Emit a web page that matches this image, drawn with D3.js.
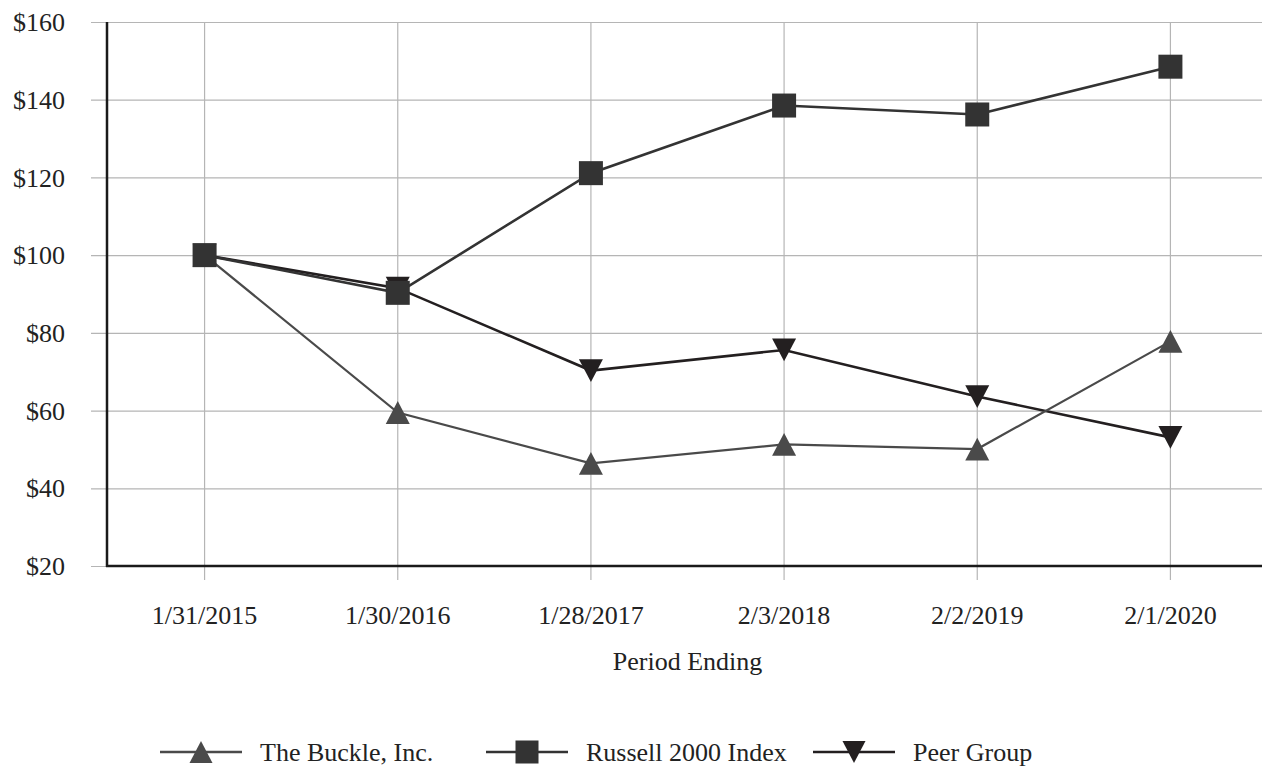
<!DOCTYPE html>
<html lang="en">
<head>
<meta charset="UTF-8">
<title>Cumulative total return</title>
<script src="https://cdn.jsdelivr.net/npm/d3@7"></script>
<style>
	body { margin: 0; background: #fff; }
	text { font-family: "Liberation Serif", "Times New Roman", serif; fill: #222; }
</style>
</head>
<body>
<div id="chart"></div>
<script>
var periods = ["1/31/2015", "1/30/2016", "1/28/2017", "2/3/2018", "2/2/2019", "2/1/2020"];
var buckle  = [100, 59.5, 46.4, 51.3, 50.1, 77.8];
var russell = [100, 90.3, 121.1, 138.5, 136.2, 148.5];
var peer    = [100, 91.5, 70.3, 75.6, 63.6, 53.1];
var yTicks  = [20, 40, 60, 80, 100, 120, 140, 160];

var series = [
	{name: "The Buckle, Inc.",   values: buckle,  color: "#4a4a4a", symbol: "up"},
	{name: "Russell 2000 Index", values: russell, color: "#333333", symbol: "square"},
	{name: "Peer Group",         values: peer,    color: "#231f20", symbol: "down"}
];

var width = 1262, height = 766;
var fontSize = 26;
var svg = d3.select("#chart").append("svg")
	.attr("width", width)
	.attr("height", height);

var x = d3.scaleBand().domain(periods).range([108, 1267]);
var y = d3.scaleLinear().domain([20, 160]).range([566, 22]);

// gridlines
svg.append("g")
	.attr("transform", "translate(91,0)")
	.call(d3.axisLeft(y).tickValues(yTicks).tickSize(-(width - 91)).tickFormat(""))
	.call(function(g){
		g.select(".domain").remove();
		g.selectAll("line").attr("stroke", "#b5b5b5").attr("stroke-width", 1.2);
	});
svg.append("g")
	.attr("transform", "translate(0,580)")
	.call(d3.axisBottom(x).tickSize(-(580 - 22)).tickFormat(""))
	.call(function(g){
		g.select(".domain").remove();
		g.selectAll("line").attr("stroke", "#b5b5b5").attr("stroke-width", 1.2);
	});

// axis lines
svg.append("line").attr("x1", 107).attr("x2", 107).attr("y1", 22).attr("y2", 567)
	.attr("stroke", "#1a1a1a").attr("stroke-width", 2.5);
svg.append("line").attr("x1", 106).attr("x2", width).attr("y1", 566).attr("y2", 566)
	.attr("stroke", "#1a1a1a").attr("stroke-width", 2.5);

// tick labels
svg.append("g").selectAll("text").data(yTicks).join("text")
	.attr("x", 65)
	.attr("y", function(d){ return y(d); })
	.attr("dy", "0.35em")
	.attr("text-anchor", "end")
	.attr("font-size", fontSize)
	.text(function(d){ return "$" + d; });

svg.append("g").selectAll("text").data(periods).join("text")
	.attr("x", function(d){ return x(d) + x.bandwidth() / 2; })
	.attr("y", 624)
	.attr("text-anchor", "middle")
	.attr("font-size", fontSize)
	.text(function(d){ return d; });

svg.append("text")
	.attr("x", x(periods[2]) + x.bandwidth())
	.attr("y", 670)
	.attr("text-anchor", "middle")
	.attr("font-size", fontSize)
	.text("Period Ending");

function marker(sel, s, size) {
	if (s.symbol === "square") {
		sel.append("rect")
			.attr("x", -size / 2).attr("y", -size / 2)
			.attr("width", size).attr("height", size)
			.attr("fill", s.color);
	} else {
		var h = size * 0.95, w = size / 2;
		var pts = s.symbol === "up"
			? [[0, -h / 2], [w, h / 2], [-w, h / 2]]
			: [[0, h / 2], [w, -h / 2], [-w, -h / 2]];
		sel.append("path")
			.attr("d", "M" + pts.join("L") + "Z")
			.attr("fill", s.color);
	}
}

var line = d3.line()
	.x(function(d, i){ return x(periods[i]) + x.bandwidth() / 2; })
	.y(function(d){ return y(d); });

// draw lines: peer first, then buckle, russell on top
var order = [series[2], series[0], series[1]];
order.forEach(function(s){
	svg.append("path")
		.attr("d", line(s.values))
		.attr("fill", "none")
		.attr("stroke", s.color)
		.attr("stroke-width", s.symbol === "up" ? 2.2 : 2.6);
});
order.forEach(function(s){
	s.values.forEach(function(v, i){
		var g = svg.append("g")
			.attr("transform", "translate(" + (x(periods[i]) + x.bandwidth() / 2) + "," + y(v) + ")");
		marker(g, s, 24);
	});
});

// legend
var legendX = [160, 486, 813];
series.forEach(function(s, i){
	var g = svg.append("g").attr("transform", "translate(" + legendX[i] + ",752)");
	g.append("line").attr("x1", 0).attr("x2", 82).attr("y1", 0).attr("y2", 0)
		.attr("stroke", s.color).attr("stroke-width", 2.6);
	var m = g.append("g").attr("transform", "translate(41,0)");
	marker(m, s, 23);
	g.append("text")
		.attr("x", 100)
		.attr("y", 0)
		.attr("dy", "0.35em")
		.attr("font-size", fontSize)
		.text(s.name);
});
</script>
</body>
</html>
